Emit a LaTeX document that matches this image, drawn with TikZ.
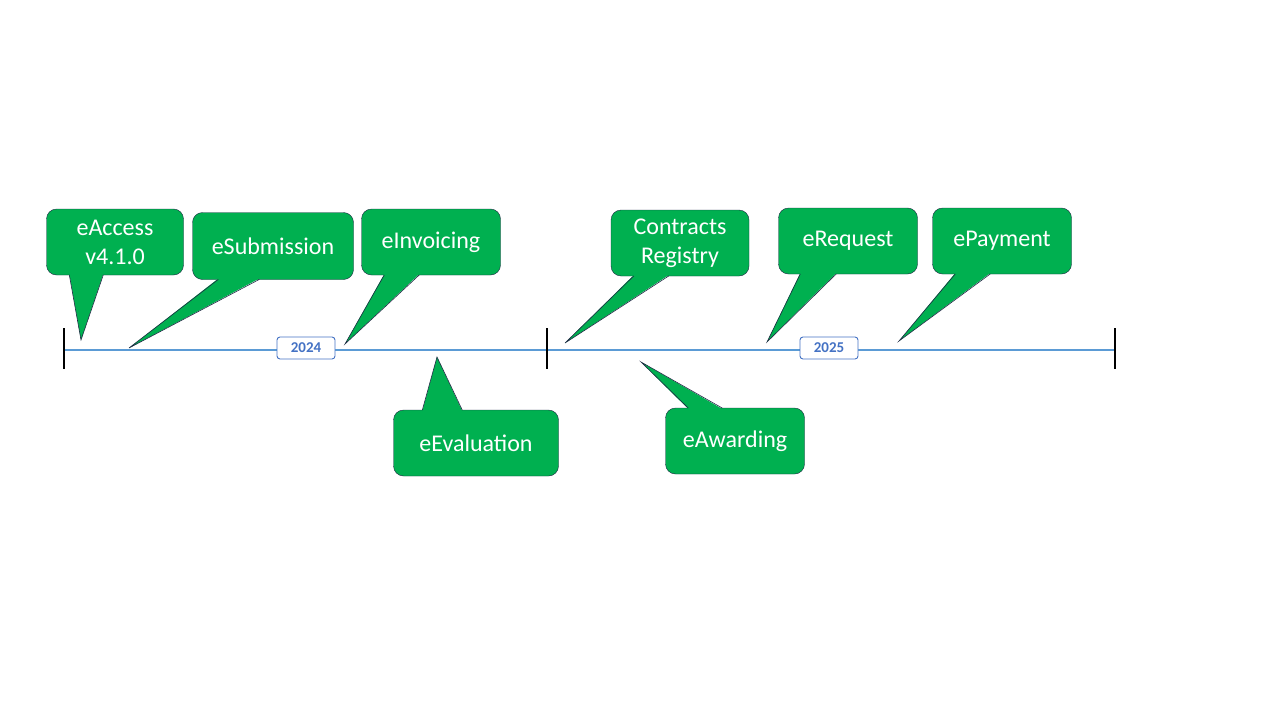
\documentclass[tikz,border=0pt]{standalone}
\usepackage{fontspec}
\setmainfont{Carlito}
\usepackage{xcolor}
\usetikzlibrary{calc,
	positioning}
\definecolor{cgreen}{HTML}{00B050}
\definecolor{cnavy}{HTML}{1F2A44}
\definecolor{lineblue}{HTML}{5B9BD5}
\definecolor{yearblue}{HTML}{4472C4}
\tikzstyle{callout}=[draw=cnavy, fill=cgreen, rounded corners=10pt, text=white,
		font=\fontsize{24}{29}\selectfont, align=center, inner sep=0pt]
\tikzstyle{ptr}=[draw=cnavy, line width=0.6pt]
\tikzstyle{year}=[draw=yearblue, line width=0.9pt, fill=white, rounded corners=3pt, text=yearblue,
		font=\bfseries\fontsize{15}{17}\selectfont, minimum width=58pt, minimum height=22pt, inner sep=0pt]
\tikzstyle{tick}=[draw=black, line width=2pt]

\begin{document}
\begin{tikzpicture}[x=1pt, y=-1pt]
            \useasboundingbox (0,0) rectangle (1280,720);
            % timeline
            \coordinate (t0) at (64,350);
            \coordinate (t1) at (547,350);
            \coordinate (t2) at (1115,350);
            \draw[lineblue, line width=1.8pt] (t0) -- (t2);
            \draw[tick] ($(t0)+(0,-22)$) -- ($(t0)+(0,19)$);
            \draw[tick] ($(t1)+(0,-22)$) -- ($(t1)+(0,19)$);
            \draw[tick] ($(t2)+(0,-22)$) -- ($(t2)+(0,19)$);
            \node[year] (y24) at (306,348) {2024};
            \node[year] (y25) at (829,348) {2025};
            % pointer tips
            \coordinate (pacc) at (81,340);
            \coordinate (psub) at (129,348);
            \coordinate (pinv) at (345,344);
            \coordinate (peva) at (437,357);
            \coordinate (pcon) at (565,343);
            \coordinate (pawa) at (641,362);
            \coordinate (preq) at (767,342);
            \coordinate (ppay) at (899,341);
            % callouts above the line
            \node[callout, minimum width=137pt, minimum height=66pt] (eacc) at (115,242) {eAccess\\v4.1.0};
            \node[callout, minimum width=161pt, minimum height=67pt] (esub) at (273,246) {eSubmission};
            \node[callout, minimum width=139pt, minimum height=66pt] (einv) at (431,242) {eInvoicing};
            \node[callout, minimum width=138pt, minimum height=66pt] (ecr) at (680,243) {Contracts\\Registry};
            \node[callout, minimum width=139pt, minimum height=66pt] (ereq) at (848,241) {eRequest};
            \node[callout, minimum width=139pt, minimum height=66pt] (epay) at (1002,241) {ePayment};
            % callouts below the line
            \node[callout, minimum width=165pt, minimum height=66pt] (eeva) at (476,443) {eEvaluation};
            \node[callout, minimum width=139pt, minimum height=66pt] (eawa) at (735,441) {eAwarding};
            % pointers
            \fill[cgreen] ($(eacc.south west)+(23,-1.2)$) -- (pacc) -- ($(eacc.south west)+(57,-1.2)$) -- cycle;
            \draw[ptr] ($(eacc.south west)+(23,-0.3)$) -- (pacc) -- ($(eacc.south west)+(57,-0.3)$);
            \fill[cgreen] ($(esub.south west)+(26,-1.2)$) -- (psub) -- ($(esub.south west)+(67,-1.2)$) -- cycle;
            \draw[ptr] ($(esub.south west)+(26,-0.3)$) -- (psub) -- ($(esub.south west)+(67,-0.3)$);
            \fill[cgreen] ($(einv.south west)+(23,-1.2)$) -- (pinv) -- ($(einv.south west)+(58,-1.2)$) -- cycle;
            \draw[ptr] ($(einv.south west)+(23,-0.3)$) -- (pinv) -- ($(einv.south west)+(58,-0.3)$);
            \fill[cgreen] ($(ecr.south west)+(23,-1.2)$) -- (pcon) -- ($(ecr.south west)+(58,-1.2)$) -- cycle;
            \draw[ptr] ($(ecr.south west)+(23,-0.3)$) -- (pcon) -- ($(ecr.south west)+(58,-0.3)$);
            \fill[cgreen] ($(ereq.south west)+(22,-1.2)$) -- (preq) -- ($(ereq.south west)+(58,-1.2)$) -- cycle;
            \draw[ptr] ($(ereq.south west)+(22,-0.3)$) -- (preq) -- ($(ereq.south west)+(58,-0.3)$);
            \fill[cgreen] ($(epay.south west)+(23,-1.2)$) -- (ppay) -- ($(epay.south west)+(58,-1.2)$) -- cycle;
            \draw[ptr] ($(epay.south west)+(23,-0.3)$) -- (ppay) -- ($(epay.south west)+(58,-0.3)$);
            \fill[cgreen] ($(eeva.north west)+(29,1.2)$) -- (peva) -- ($(eeva.north west)+(69,1.2)$) -- cycle;
            \draw[ptr] ($(eeva.north west)+(29,0.3)$) -- (peva) -- ($(eeva.north west)+(69,0.3)$);
            \fill[cgreen] ($(eawa.north west)+(23,1.2)$) -- (pawa) -- ($(eawa.north west)+(57,1.2)$) -- cycle;
            \draw[ptr] ($(eawa.north west)+(23,0.3)$) -- (pawa) -- ($(eawa.north west)+(57,0.3)$);
        \end{tikzpicture}
\end{document}
